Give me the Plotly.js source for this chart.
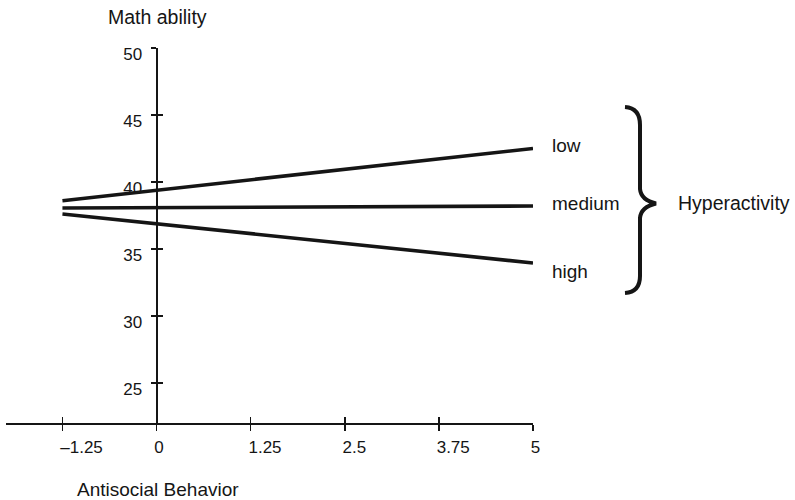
<!DOCTYPE html>
<html>
<head>
<meta charset="utf-8">
<script src="https://cdn.plot.ly/plotly-3.0.1.min.js"></script>
<style>html,body{margin:0;padding:0;background:#fff;}#chart{width:795px;height:500px;}</style>
</head>
<body>
<div id="chart"></div>
<script>
// Data
const xValues = [-1.25, 5];
const lowValues = [38.6, 42.5];
const mediumValues = [38.05, 38.2];
const highValues = [37.6, 33.95];
const groupNames = ['low', 'medium', 'high'];
const xTickVals = [-1.25, 0, 1.25, 2.5, 3.75, 5];
const xTickText = ['\u20131.25', '0', '1.25', '2.5', '3.75', '5'];
const yTickVals = [25, 30, 35, 40, 45, 50];
const yTickText = ['25', '30', '35', '40', '45', '50'];

const W = 795, H = 500;
const M = {l: 6, r: 262, t: 48, b: 77};
const PW = W - M.l - M.r, PH = H - M.t - M.b;
const xRange = [-2, 5], yRange = [22, 50];
const px = v => (v - M.l) / PW;          // pixel x -> paper
const py = v => (H - M.b - v) / PH;      // pixel y -> paper
const yAxisPos = (0 - xRange[0]) / (xRange[1] - xRange[0]);

const FONT = 'Liberation Sans, Arial, Helvetica, sans-serif';
const INK = '#151515';

const lineStyle = {color: INK, width: 3.6};
const traces = [
  {x: xValues, y: lowValues, mode: 'lines', line: lineStyle, name: groupNames[0], hoverinfo: 'skip'},
  {x: xValues, y: mediumValues, mode: 'lines', line: lineStyle, name: groupNames[1], hoverinfo: 'skip'},
  {x: xValues, y: highValues, mode: 'lines', line: lineStyle, name: groupNames[2], hoverinfo: 'skip'},
  {x: xValues, y: mediumValues, xaxis: 'x2', yaxis: 'y2', mode: 'lines', line: {color: 'rgba(0,0,0,0)', width: 0},
    showlegend: false, hoverinfo: 'skip'}
];

const axBase = {showgrid: false, zeroline: false, fixedrange: true, tickcolor: INK, tickwidth: 1.6,
  linecolor: INK, linewidth: 2, tickfont: {family: FONT, size: 17, color: INK}};

// brace path (pixel coordinates converted to paper)
function P(x, y) { return px(x).toFixed(5) + ',' + py(y).toFixed(5); }
const bracePath = 'M' + P(625, 107) + ' Q' + P(640, 108) + ' ' + P(640, 125) +
  ' L' + P(640, 189) + ' Q' + P(641, 200) + ' ' + P(656, 203.5) +
  ' Q' + P(641, 207) + ' ' + P(640, 218) + ' L' + P(640, 276) +
  ' Q' + P(640, 292) + ' ' + P(625, 293);

const labelYs = [42.75, 38.4, 33.3];

const layout = {
  width: W, height: H, margin: M, showlegend: false,
  paper_bgcolor: '#fff', plot_bgcolor: 'rgba(0,0,0,0)',
  font: {family: FONT, color: INK},
  xaxis: Object.assign({}, axBase, {range: xRange, tickmode: 'array', tickvals: xTickVals, ticktext: xTickText,
    ticks: 'outside', ticklen: 6, showline: true, anchor: 'y', ticklabelposition: 'outside right',
    ticklabelshift: -4, ticklabelstandoff: 8}),
  yaxis: Object.assign({}, axBase, {range: yRange, tickmode: 'array', tickvals: yTickVals, ticktext: yTickText,
    ticks: 'outside', ticklen: 5, showline: true, anchor: 'free', position: yAxisPos, ticklabelshift: 6, ticklabelstandoff: 5}),
  xaxis2: Object.assign({}, axBase, {range: xRange, tickmode: 'array', tickvals: xTickVals, overlaying: 'x',
    ticks: 'inside', ticklen: 6, showline: false, showticklabels: false, anchor: 'y2'}),
  yaxis2: Object.assign({}, axBase, {range: yRange, tickmode: 'array', tickvals: yTickVals, overlaying: 'y',
    ticks: 'inside', ticklen: 5, showline: false, showticklabels: false, anchor: 'free', position: yAxisPos}),
  annotations: [
    {text: 'Math ability', xref: 'paper', yref: 'paper', x: px(157), y: py(17), xanchor: 'center', yanchor: 'middle',
      showarrow: false, font: {family: FONT, size: 19.5, color: INK}},
    {text: 'Antisocial Behavior', xref: 'paper', yref: 'paper', x: px(158), y: py(489), xanchor: 'center', yanchor: 'middle',
      showarrow: false, font: {family: FONT, size: 19, color: INK}},
    {text: groupNames[0], xref: 'paper', yref: 'y', x: px(550), y: labelYs[0], xanchor: 'left', yanchor: 'middle',
      showarrow: false, font: {family: FONT, size: 19, color: INK}},
    {text: groupNames[1], xref: 'paper', yref: 'y', x: px(550), y: labelYs[1], xanchor: 'left', yanchor: 'middle',
      showarrow: false, font: {family: FONT, size: 19, color: INK}},
    {text: groupNames[2], xref: 'paper', yref: 'y', x: px(550), y: labelYs[2], xanchor: 'left', yanchor: 'middle',
      showarrow: false, font: {family: FONT, size: 19, color: INK}},
    {text: 'Hyperactivity', xref: 'paper', yref: 'paper', x: px(676), y: py(203), xanchor: 'left', yanchor: 'middle',
      showarrow: false, font: {family: FONT, size: 19.5, color: INK}}
  ],
  shapes: [
    {type: 'path', xref: 'paper', yref: 'paper', path: bracePath, line: {color: INK, width: 4}}
  ]
};

Plotly.newPlot('chart', traces, layout, {staticPlot: true, displayModeBar: false});
</script>
</body>
</html>
